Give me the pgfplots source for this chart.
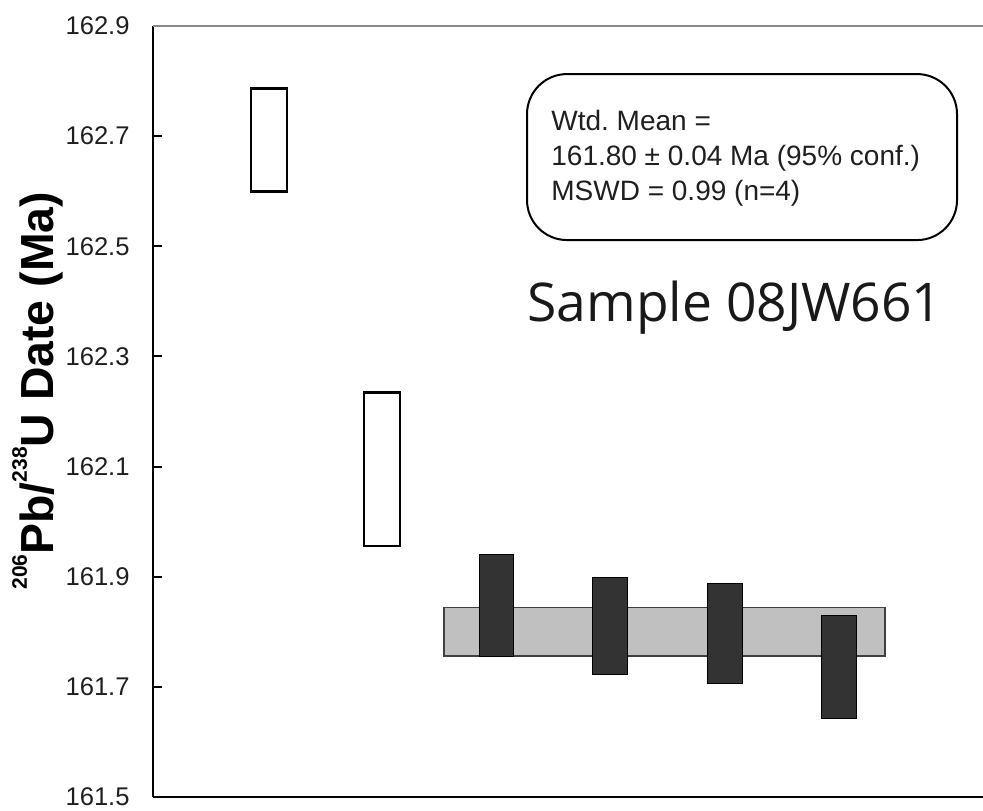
\documentclass[border=0pt]{standalone}
\usepackage{pgfplots}
\pgfplotsset{compat=1.18}
\usepackage{fontspec}
\setmainfont{Liberation Sans}
\newfontfamily\samplefont{Open Sans}
\frenchspacing

\definecolor{grainfill}{HTML}{333333}
\definecolor{bandfill}{HTML}{C0C0C0}
\definecolor{bandedge}{HTML}{404040}
\definecolor{topline}{HTML}{8A8A8A}

\begin{document}
\begin{tikzpicture}
\begin{axis}[
  at={(0,0)}, anchor=south west,
  scale only axis,
  width=415pt, height=385.5pt,
  xmin=0, xmax=7.281,
  ymin=161.5, ymax=162.9,
  axis x line*=bottom, axis y line*=left,
  axis line style={black, line width=1.1pt},
  xtick=\empty,
  ytick={161.5,161.7,...,162.91},
  minor y tick num=1,
  tick align=inside,
  major tick length=4.5pt, minor tick length=3pt,
  ytick style={black, line width=1pt},
  /pgf/number format/assume math mode=true,
  yticklabel={\pgfmathprintnumber[fixed,fixed zerofill,precision=1]{\tick}},
  yticklabel style={font=\fontsize{12.8}{14}\selectfont, text=black!88, inner sep=0pt, xshift=-11.5pt},
  ylabel={\bfseries\raisebox{1.1ex}{\fontsize{10.5}{10.5}\selectfont 206}Pb/\raisebox{1.1ex}{\fontsize{10.5}{10.5}\selectfont 238}U Date (Ma)},
  every axis y label/.style={at={(axis description cs:-0.1386,0.527)}, rotate=90, anchor=center, font=\fontsize{23.2}{25}\selectfont},
  clip=false,
]
  % top frame line (light grey)
  \draw[topline, line width=0.8pt] (rel axis cs:0,1) -- (rel axis cs:1,1);

  % weighted mean band
  \addplot[draw=bandedge, line width=0.6pt, fill=bandfill, line join=miter]
    coordinates {(2.553,161.756) (6.421,161.756) (6.421,161.844) (2.553,161.844)} -- cycle;

  % excluded analyses (open boxes)
  \addplot[draw=black, line width=1.3pt, fill=white, line join=miter]
    coordinates {(0.860,162.599) (1.175,162.599) (1.175,162.786) (0.860,162.786)} -- cycle;
  \addplot[draw=black, line width=1.3pt, fill=white, line join=miter]
    coordinates {(1.851,161.956) (2.167,161.956) (2.167,162.234) (1.851,162.234)} -- cycle;

  % analyses used in the weighted mean (filled boxes)
  \addplot[draw=black, line width=0.5pt, fill=grainfill, line join=miter]
    coordinates {(2.868,161.756) (3.158,161.756) (3.158,161.941) (2.868,161.941)} -- cycle;
  \addplot[draw=black, line width=0.5pt, fill=grainfill, line join=miter]
    coordinates {(3.851,161.722) (4.158,161.722) (4.158,161.898) (3.851,161.898)} -- cycle;
  \addplot[draw=black, line width=0.5pt, fill=grainfill, line join=miter]
    coordinates {(4.860,161.707) (5.167,161.707) (5.167,161.887) (4.860,161.887)} -- cycle;
  \addplot[draw=black, line width=0.5pt, fill=grainfill, line join=miter]
    coordinates {(5.860,161.643) (6.167,161.643) (6.167,161.830) (5.860,161.830)} -- cycle;

  % statistics box
  \node[draw=black, line width=1pt, rounded corners=20pt, minimum width=215pt, minimum height=83pt, inner sep=0pt]
    at (axis cs:5.167,162.662) {};
  \node[anchor=west, inner sep=0pt, align=left, font=\fontsize{14}{17.5}\selectfont, text=black!88]
    at (axis cs:3.491,162.660) {Wtd. Mean =\\161.80 ± 0.04 Ma (95\% conf.)\\MSWD = 0.99 (n=4)};

  % sample name
  \node[anchor=base, inner sep=0pt, font=\samplefont\fontsize{26.7}{30}\selectfont, text=black!90]
    at (axis cs:5.105,162.364) {Sample 08JW661};
\end{axis}
\pgfresetboundingbox
\path[use as bounding box] (-76.5pt,-6.8pt) rectangle (415pt,398.5pt);
\end{tikzpicture}
\end{document}
